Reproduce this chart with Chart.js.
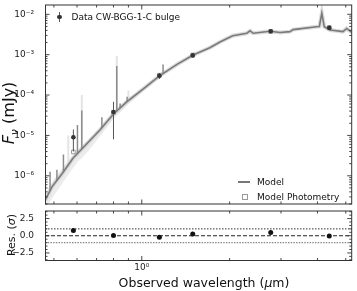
<!DOCTYPE html>
<html>
<head>
<meta charset="utf-8">
<script src="https://cdn.jsdelivr.net/npm/chart.js@4.4.1/dist/chart.umd.min.js"></script>
<style>
  body { margin: 0; background: #fff; }
  #wrap { position: relative; width: 357px; height: 291px; overflow: hidden; font-family: 'DejaVu Sans', sans-serif; color: #111; }
  canvas { position: absolute; left: 0; }
  .lab { position: absolute; white-space: nowrap; transform: translate(-50%, -50%); }
  .rot { transform: translate(-50%, -50%) rotate(-90deg); }
  .leg { position: absolute; font-size: 9px; white-space: nowrap; line-height: 1; transform: translateY(-50%); }
</style>
</head>
<body>
<div id="wrap">
  <canvas id="mainChart" width="357" height="209" style="top:0"></canvas>
  <canvas id="resChart" width="357" height="84" style="top:207px"></canvas>

  <div class="lab rot" style="left:10px;top:113px;font-size:16px"><i>F</i><sub style="font-size:11px"><i>ν</i></sub> (mJy)</div>
  <div class="lab rot" style="left:11px;top:235px;font-size:11px">Res. (<i>σ</i>)</div>
  <div class="lab" style="left:204px;top:282px;font-size:12.5px">Observed wavelength (<i>μ</i>m)</div>

  <!-- legend: data -->
  <div style="position:absolute;left:58.8px;top:11.5px;width:1px;height:10.5px;background:#555"></div>
  <div style="position:absolute;left:57px;top:14.5px;width:4.6px;height:4.6px;border-radius:50%;background:#333"></div>
  <div class="leg" style="left:71.5px;top:16.7px">Data CW-BGG-1-C bulge</div>
  <!-- legend: model -->
  <div style="position:absolute;left:238px;top:181px;width:12px;height:1.5px;background:#777"></div>
  <div class="leg" style="left:257px;top:181.7px">Model</div>
  <div style="position:absolute;left:241.5px;top:194px;width:4px;height:4px;border:1px solid #999"></div>
  <div class="leg" style="left:257px;top:196.7px">Model Photometry</div>
</div>

<script>
// model spectrum (um, mJy)
const modelWave = [0.466, 0.493, 0.533, 0.582, 0.630, 0.720, 0.800, 0.890, 1.010, 1.150, 1.320, 1.500, 1.710, 1.860, 2.050, 2.290, 2.350, 2.410, 2.750, 2.980, 3.220, 3.300, 3.970, 4.060, 4.140, 4.220, 4.420, 4.890, 5.040, 5.240];
const modelFlux = [2.45e-7, 5.4e-7, 1.12e-6, 2.75e-6, 5.0e-6, 1.38e-5, 3.4e-5, 6.9e-5, 1.41e-4, 3.0e-4, 5.75e-4, 9.8e-4, 1.48e-3, 2.09e-3, 2.95e-3, 3.39e-3, 3.89e-3, 3.39e-3, 3.80e-3, 3.55e-3, 3.72e-3, 4.17e-3, 4.90e-3, 5.0e-3, 1.07e-2, 4.9e-3, 4.07e-3, 3.72e-3, 4.47e-3, 3.55e-3];

// uncertainty band of the model
const bandWave = [0.466, 0.50, 0.55, 0.60, 0.65, 0.72, 0.80, 0.90, 1.0, 1.2, 1.5];
const bandHi = [3.6e-7, 8.2e-7, 2.05e-6, 4.3e-6, 7.4e-6, 1.65e-5, 3.85e-5, 8.1e-5, 1.46e-4, 3.85e-4, 1.04e-3];
const bandLo = [1.5e-7, 3.2e-7, 8.9e-7, 2.1e-6, 3.8e-6, 9.6e-6, 2.55e-5, 5.9e-5, 1.14e-4, 3.28e-4, 9.0e-4];

// narrow features of the model (base -> top)
const spikeWave = [0.485, 0.512, 0.539, 0.602, 0.623, 0.730, 0.821, 0.843, 0.891, 1.183];
const spikeBase = [4.5e-7, 7.9e-7, 1.32e-6, 3.55e-6, 4.68e-6, 1.51e-5, 3.98e-5, 4.68e-5, 6.9e-5, 3.47e-4];
const spikeTop = [1.26e-6, 1.41e-6, 3.39e-6, 1.82e-5, 4.17e-5, 2.82e-5, 5.25e-4, 6.17e-5, 9.1e-5, 5.75e-4];
const faintWave = [0.560, 0.623, 0.821, 0.900];
const faintBase = [1.9e-6, 4.68e-6, 3.98e-5, 7.6e-5];
const faintTop = [1.0e-5, 1.0e-4, 9.3e-4, 1.3e-4];

// photometry
const photWave = [0.583, 0.800, 1.149, 1.495, 2.766, 4.390];
const photFlux = [9.0e-6, 3.8e-5, 3.0e-4, 9.6e-4, 3.8e-3, 4.6e-3];
const photErr = [5.0e-6, 3.0e-5, 5.0e-5, 1.0e-4, 2.5e-4, 3.0e-4];
const modelPhot = [3.9e-6, 3.7e-5, 3.1e-4, 9.8e-4, 3.75e-3, 4.7e-3];
const residual = [0.77, 0.04, -0.23, 0.27, 0.49, -0.05];

// axes
const waveRange = [0.466, 5.24];
const fluxRange = [2e-7, 1.7e-2];
const resRange = [-3.6, 3.6];
const fluxTicks = [1e-6, 1e-5, 1e-4, 1e-3, 1e-2];
const resTicks = [-2.5, 0, 2.5];
const resMinor = [-3.5, -3, -2, -1.5, -1, -0.5, 0.5, 1, 1.5, 2, 3, 3.5];
const waveMajor = [1];
const waveMinor = [0.5, 0.6, 0.7, 0.8, 0.9, 2, 3, 4, 5];
const resLevels = [-1, 0, 1];

const fluxMinor = [];
for (let d = -7; d <= -2; d++) {
    for (let m = 2; m <= 9; m++) fluxMinor.push(m * Math.pow(10, d));
}

const SUP = { '-': '⁻', '0': '⁰', '1': '¹', '2': '²', '3': '³', '4': '⁴', '5': '⁵', '6': '⁶', '7': '⁷', '8': '⁸', '9': '⁹' };
const pow10Label = v => '10' + String(Math.round(Math.log10(v))).split('').map(c => SUP[c]).join('');

// helpers to turn pairs of arrays into segments separated by gaps
function segments(xs, lo, hi) {
    const out = [];
    xs.forEach((x, i) => { out.push({ x, y: lo[i] }, { x, y: hi[i] }, { x, y: null }); });
    return out;
}
const pts = (xs, ys) => xs.map((x, i) => ({ x, y: ys[i] }));

// inward ticks on all four sides, matplotlib style
const inwardTicks = {
    id: 'inwardTicks',
    afterDatasetsDraw(chart, args, o) {
        const { ctx, chartArea: a, scales: { x, y } } = chart;
        ctx.save();
        ctx.strokeStyle = '#333';
        ctx.lineWidth = 0.9;
        const seg = (x1, y1, x2, y2) => { ctx.beginPath(); ctx.moveTo(x1, y1); ctx.lineTo(x2, y2); ctx.stroke(); };
        [[o.xMajor, 4.5], [o.xMinor, 2.5]].forEach(([vals, len]) => vals.forEach(v => {
            const p = x.getPixelForValue(v);
            seg(p, a.top, p, a.top + len);
            seg(p, a.bottom, p, a.bottom - len);
        }));
        [[o.yMajor, 4.5], [o.yMinor, 2.5]].forEach(([vals, len]) => vals.forEach(v => {
            const p = y.getPixelForValue(v);
            if (p < a.top || p > a.bottom) return;
            seg(a.left, p, a.left + len, p);
            seg(a.right, p, a.right - len, p);
        }));
        ctx.lineWidth = 1;
        ctx.strokeRect(a.left + 0.5, a.top, a.width - 0.5, a.height);
        ctx.restore();
    }
};

const tickFont = { family: 'DejaVu Sans', size: 9 };
const fixY = s => { s.width = 45; s.paddingTop = 0; s.paddingBottom = 0; };

// main SED panel
new Chart(document.getElementById('mainChart'), {
    type: 'line',
    data: {
        datasets: [
            { data: pts(photWave, photFlux), showLine: false, pointStyle: 'circle', pointRadius: 2.3, pointBackgroundColor: '#333', pointBorderWidth: 0, order: 0 },
            { data: segments(photWave, photFlux.map((f, i) => f - photErr[i]), photFlux.map((f, i) => f + photErr[i])), borderColor: '#555', borderWidth: 1, pointRadius: 0, order: 1 },
            { data: pts(photWave, modelPhot), showLine: false, pointStyle: 'rect', pointRadius: 2.6, pointBorderColor: '#999', pointBorderWidth: 1, pointBackgroundColor: 'rgba(0,0,0,0)', order: 2 },
            { data: pts(modelWave, modelFlux), borderColor: '#7a7a7a', borderWidth: 1.6, pointRadius: 0, order: 3 },
            { data: segments(spikeWave, spikeBase, spikeTop), borderColor: '#8c8c8c', borderWidth: 1.5, pointRadius: 0, order: 4 },
            { data: pts(modelWave, modelFlux), borderColor: 'rgba(205,205,205,0.7)', borderWidth: 4, pointRadius: 0, order: 5 },
            { data: segments(faintWave, faintBase, faintTop), borderColor: '#e4e4e4', borderWidth: 2, pointRadius: 0, order: 6 },
            { data: pts(bandWave, bandHi), borderWidth: 0, pointRadius: 0, fill: '+1', backgroundColor: '#ececec', order: 7 },
            { data: pts(bandWave, bandLo), borderWidth: 0, pointRadius: 0, fill: false, order: 8 }
        ]
    },
    options: {
        responsive: false,
        animation: false,
        events: [],
        layout: { padding: { top: 4.5, right: 5.3, bottom: 1, left: 0 } },
        plugins: {
            legend: { display: false },
            tooltip: { enabled: false },
            inwardTicks: { xMajor: waveMajor, xMinor: waveMinor, yMajor: fluxTicks, yMinor: fluxMinor }
        },
        scales: {
            x: { type: 'logarithmic', min: waveRange[0], max: waveRange[1], display: false },
            y: {
                type: 'logarithmic', min: fluxRange[0], max: fluxRange[1],
                grid: { display: false, drawTicks: false }, border: { display: false },
                afterBuildTicks: s => { s.ticks = fluxTicks.map(v => ({ value: v })); },
                afterFit: fixY,
                ticks: { font: tickFont, color: '#222', padding: 11, callback: v => pow10Label(v) }
            }
        }
    },
    plugins: [inwardTicks]
});

// residual panel
new Chart(document.getElementById('resChart'), {
    type: 'line',
    data: {
        datasets: [
            { data: pts(photWave, residual), showLine: false, pointRadius: 2.5, pointBackgroundColor: '#111', pointBorderWidth: 0, order: 0 },
            { data: pts(waveRange, [resLevels[1], resLevels[1]]), borderColor: '#222', borderWidth: 1, borderDash: [4, 2], pointRadius: 0, order: 1 },
            { data: pts(waveRange, [resLevels[2], resLevels[2]]), borderColor: '#333', borderWidth: 1, borderDash: [1.5, 1.5], pointRadius: 0, order: 2 },
            { data: pts(waveRange, [resLevels[0], resLevels[0]]), borderColor: '#888', borderWidth: 1.4, borderDash: [1.5, 1.2], pointRadius: 0, order: 3 }
        ]
    },
    options: {
        responsive: false,
        animation: false,
        events: [],
        layout: { padding: { top: 1, right: 5.3, bottom: 0, left: 0 } },
        plugins: {
            legend: { display: false },
            tooltip: { enabled: false },
            inwardTicks: { xMajor: waveMajor, xMinor: waveMinor, yMajor: resTicks, yMinor: resMinor }
        },
        scales: {
            x: {
                type: 'logarithmic', min: waveRange[0], max: waveRange[1],
                grid: { display: false, drawTicks: false }, border: { display: false },
                afterBuildTicks: s => { s.ticks = waveMajor.map(v => ({ value: v })); },
                afterFit: s => { s.height = 30.5; s.paddingLeft = 0; s.paddingRight = 0; },
                ticks: { font: tickFont, color: '#222', padding: 2, maxRotation: 0, autoSkip: false, callback: v => pow10Label(v) }
            },
            y: {
                type: 'linear', min: resRange[0], max: resRange[1],
                grid: { display: false, drawTicks: false }, border: { display: false },
                afterBuildTicks: s => { s.ticks = resTicks.map(v => ({ value: v })); },
                afterFit: fixY,
                ticks: { font: tickFont, color: '#222', padding: 11, callback: v => v.toFixed(1).replace('-', '−') }
            }
        }
    },
    plugins: [inwardTicks]
});
</script>
</body>
</html>
